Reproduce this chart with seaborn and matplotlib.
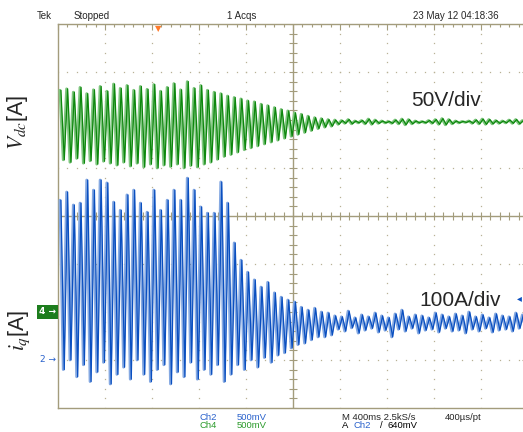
import matplotlib
matplotlib.use("Agg")
import matplotlib.pyplot as plt
import numpy as np
import pandas as pd
import seaborn as sns
from matplotlib.ticker import MultipleLocator

# ─── values, in graticule divisions (centre = 0) ───
# one peak / one trough per oscillation cycle, left to right
vdc_peaks = [2.62, 2.65, 2.58, 2.68, 2.55, 2.63, 2.70, 2.60, 2.75, 2.66,
             2.72, 2.62, 2.70, 2.64, 2.74, 2.60, 2.68, 2.76, 2.63, 2.80,
             2.66, 2.72, 2.62, 2.58, 2.55, 2.50, 2.47, 2.44, 2.40, 2.38,
             2.33, 2.30, 2.26, 2.22, 2.19, 2.15, 2.12, 2.08, 2.05, 2.03,
             2.01, 2.00, 1.99, 2.01, 1.98, 1.99, 2.02, 2.00, 1.98, 1.97,
             2.00, 2.02, 2.01, 1.98, 1.97, 1.99, 2.01, 2.03, 2.01, 1.98,
             1.97, 1.98, 2.00, 2.02, 2.01, 1.99, 1.98, 2.00, 2.01, 1.99]
vdc_troughs = [1.17, 1.12, 1.20, 1.10, 1.15, 1.08, 1.14, 1.10, 1.06, 1.12,
               1.04, 1.10, 1.02, 1.08, 1.00, 1.06, 1.03, 1.08, 1.00, 1.05,
               1.02, 1.08, 1.12, 1.18, 1.24, 1.28, 1.33, 1.38, 1.42, 1.46,
               1.50, 1.54, 1.58, 1.62, 1.66, 1.70, 1.74, 1.78, 1.82, 1.85,
               1.87, 1.91, 1.93, 1.92, 1.94, 1.92, 1.91, 1.93, 1.94, 1.93,
               1.92, 1.90, 1.92, 1.94, 1.94, 1.93, 1.91, 1.90, 1.92, 1.94,
               1.95, 1.93, 1.92, 1.91, 1.92, 1.93, 1.94, 1.93, 1.92, 1.93]
iq_peaks = [0.33, 0.50, 0.23, 0.27, 0.75, 0.54, 0.75, 0.69, 0.29, 0.12,
            0.44, 0.54, 0.27, 0.08, 0.54, 0.12, 0.33, 0.54, 0.33, 0.79,
            0.54, 0.19, 0.06, 0.06, 0.71, 0.27, -0.56, -0.92, -1.17, -1.33,
            -1.48, -1.38, -1.60, -1.69, -1.75, -1.79, -1.90, -1.96, -1.92, -2.00,
            -2.02, -2.08, -2.10, -1.98, -2.12, -2.06, -2.10, -2.02, -2.08, -2.12,
            -2.04, -1.96, -2.10, -2.06, -2.08, -2.12, -2.02, -2.06, -2.10, -2.04,
            -2.08, -2.00, -2.10, -2.06, -2.12, -2.04, -2.08, -2.10, -2.02, -2.06]
iq_troughs = [-3.20, -3.00, -3.35, -3.10, -3.45, -3.25, -3.05, -3.50, -3.30, -3.15,
              -3.40, -3.00, -3.30, -3.45, -3.20, -3.10, -3.50, -3.25, -3.35, -3.05,
              -3.40, -3.20, -3.30, -3.10, -3.45, -3.30, -3.10, -3.20, -3.00, -3.15,
              -2.95, -3.05, -2.90, -2.85, -2.75, -2.68, -2.65, -2.58, -2.52, -2.52,
              -2.48, -2.36, -2.40, -2.33, -2.44, -2.38, -2.34, -2.42, -2.38, -2.52,
              -2.36, -2.40, -2.34, -2.44, -2.38, -2.36, -2.42, -2.34, -2.40, -2.38,
              -2.44, -2.36, -2.40, -2.34, -2.42, -2.38, -2.36, -2.40, -2.34, -2.38]

START_DIV = 0.04        # first cycle on screen
CYCLE_DIV = 0.1426      # oscillation period, divisions
TRIGGER_DIV = 2.13      # horizontal trigger position
CH4_GROUND_DIV = -2
CH2_GROUND_DIV = -3
CH2_TRIG_LEVEL_DIV = -1.72

top_texts = ["Tek", "Stopped", "1 Acqs", "23 May 12 04:18:36"]
ch_rows = [("Ch2", "500mV"), ("Ch4", "500mV")]
timebase = "M 400ms 2.5kS/s"
rate = "400\u00b5s/pt"
trig_text = ["A", "Ch2", "/", "640mV"]

GRID = "#a39c7c"
DOT = "#b8b196"
GREEN_D, GREEN_L = "#0d870d", "#7fc67f"
BLUE_D, BLUE_L = "#0a4fc0", "#85a9e2"
TXT_BLUE, TXT_GREEN = "#2a62cc", "#2a9a2a"
ORANGE = "#ff7a2a"

sns.set_style("white")
plt.rcParams["font.family"] = ["Liberation Sans", "DejaVu Sans"]
plt.rcParams["mathtext.fontset"] = "stix"

W, H = 523, 432


def trace_df(peaks, troughs):
    y = np.column_stack([peaks, troughs]).ravel()
    t = START_DIV + CYCLE_DIV / 2 * np.arange(len(y))
    return pd.DataFrame({"t": t, "div": y})


def px(x, y):
    return x / W, 1 - y / H


fig = plt.figure(figsize=(W / 100, H / 100), dpi=100)
ax = fig.add_axes([58 / W, (H - 408) / H, 470 / W, 384 / H])
ax.set_xlim(0, 10)
ax.set_ylim(-4, 4)

for s in ax.spines.values():
    s.set_color(GRID)
    s.set_linewidth(1.0)
ax.xaxis.set_major_locator(MultipleLocator(1))
ax.xaxis.set_minor_locator(MultipleLocator(0.2))
ax.yaxis.set_major_locator(MultipleLocator(1))
ax.yaxis.set_minor_locator(MultipleLocator(0.2))
ax.tick_params(which="both", direction="in", top=True, right=True,
               labelbottom=False, labelleft=False, color=GRID, width=0.8)
ax.tick_params(which="major", length=4.5)
ax.tick_params(which="minor", length=2.2)

# dotted graticule (no line at +-2 div on this screen)
yy = np.linspace(-4, 4, 41)
xx = np.linspace(0, 10, 51)
for gx in [1, 2, 3, 4, 6, 7, 8, 9]:
    ax.plot(np.full_like(yy, gx), yy, ls="", marker="s", ms=0.9, mew=0,
            color=DOT, zorder=1)
for gy in [-3, -1, 1, 3]:
    ax.plot(xx, np.full_like(xx, gy), ls="", marker="s", ms=0.9, mew=0,
            color=DOT, zorder=1)

# centre cross with ticks
ax.axhline(0, color=GRID, lw=1.0, zorder=1)
ax.axvline(5, color=GRID, lw=1.0, zorder=1)
ax.plot(xx, np.zeros_like(xx), ls="", marker="|", ms=5.5, mew=0.8, color=GRID, zorder=1)
ax.plot(np.full_like(yy, 5), yy, ls="", marker="_", ms=5.5, mew=0.8, color=GRID, zorder=1)

# traces
for df, light, dark in [(trace_df(vdc_peaks, vdc_troughs), GREEN_L, GREEN_D),
                        (trace_df(iq_peaks, iq_troughs), BLUE_L, BLUE_D)]:
    sns.lineplot(data=df, x="t", y="div", color=light, lw=2.0,
                 estimator=None, sort=False, ax=ax, zorder=3)
    shifted = df.assign(t=df["t"] + 0.022)
    sns.lineplot(data=shifted, x="t", y="div", color=dark, lw=0.9,
                 estimator=None, sort=False, ax=ax, zorder=4)
ax.set_xlabel("")
ax.set_ylabel("")

# scope markers
ax.annotate("\u25bc", xy=(TRIGGER_DIV, 4), xycoords="data", ha="center", va="top",
            fontsize=6, color=ORANGE, family="DejaVu Sans", annotation_clip=False)
ax.annotate("4 \u2192", xy=(0, CH4_GROUND_DIV), xycoords=("axes fraction", "data"),
            xytext=(-1.5, 0), textcoords="offset points", ha="right", va="center",
            fontsize=6.5, color="white", family="DejaVu Sans", fontweight="bold",
            bbox=dict(boxstyle="square,pad=0.25", fc="#1d7d1d", ec="none"),
            annotation_clip=False)
ax.annotate("2 \u2192", xy=(0, CH2_GROUND_DIV), xycoords=("axes fraction", "data"),
            xytext=(-1.5, 0), textcoords="offset points", ha="right", va="center",
            fontsize=6.5, color=TXT_BLUE, family="DejaVu Sans",
            annotation_clip=False)
ax.annotate("\u25c2", xy=(9.81, CH2_TRIG_LEVEL_DIV), xycoords="data",
            ha="center", va="center", fontsize=7, color=BLUE_D,
            family="DejaVu Sans", annotation_clip=False)

# channel scale labels
fig.text(*px(446, 101), "50V/div", ha="center", va="center", fontsize=15)
fig.text(*px(460, 300), "100A/div", ha="center", va="center", fontsize=15)

# axis labels
fig.text(*px(18, 122), r"$V_{dc}$[A]", rotation=90, ha="center", va="center",
         fontsize=15.5)
fig.text(*px(19, 330), r"$i_q$[A]", rotation=90, ha="center", va="center",
         fontsize=15.5)

# scope status lines
for x, s in zip([37, 74, 227, 413], top_texts):
    fig.text(*px(x, 16), s, ha="left", va="center", fontsize=7)
for (ch, sc), y, c in zip(ch_rows, [417, 426], [TXT_BLUE, TXT_GREEN]):
    fig.text(*px(200, y), ch, ha="left", va="center", fontsize=6.8, color=c)
    fig.text(*px(237, y), sc, ha="left", va="center", fontsize=6.8, color=c)
fig.text(*px(342, 417), timebase, ha="left", va="center", fontsize=6.8)
fig.text(*px(445, 417), rate, ha="left", va="center", fontsize=6.8)
for x, s, c in zip([342, 353, 380, 388], trig_text, ["black", TXT_BLUE, "black", "black"]):
    fig.text(*px(x, 426), s, ha="left", va="center", fontsize=6.8, color=c)

fig.savefig("out.png", dpi=100)
